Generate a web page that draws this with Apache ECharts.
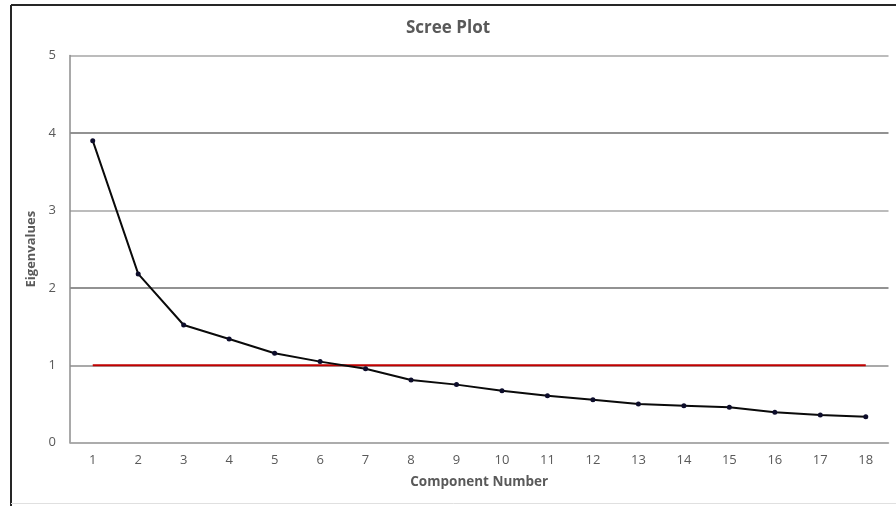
<!DOCTYPE html>
<html>
<head>
<meta charset="utf-8">
<script src="https://cdn.jsdelivr.net/npm/echarts@6/dist/echarts.min.js"></script>
<style>
html,body{margin:0;padding:0;background:#fff;}
#chart{width:896px;height:506px;}
</style>
</head>
<body>
<div id="chart"></div>
<script>
const categories = ['1','2','3','4','5','6','7','8','9','10','11','12','13','14','15','16','17','18'];
const eigenvalues = [3.90, 2.18, 1.52, 1.34, 1.155, 1.047, 0.956, 0.81, 0.75, 0.672, 0.607, 0.556, 0.50, 0.478, 0.457, 0.393, 0.358, 0.336];
const cutoff = [1,1,1,1,1,1,1,1,1,1,1,1,1,1,1,1,1,1];
const yTicks = [0, 1, 2, 3, 4, 5];

const chart = echarts.init(document.getElementById('chart'), null, {renderer: 'canvas'});
const font = '"Open Sans", "Liberation Sans", sans-serif';
chart.setOption({
  backgroundColor: '#fff',
  animation: false,
  title: {
    text: 'Scree Plot',
    left: 'center',
    top: 15,
    textStyle: {fontFamily: font, fontSize: 17, fontWeight: 'bold', color: '#595959'}
  },
  grid: {left: 70, right: 7.5, top: 55.5, bottom: 63.3, containLabel: false},
  xAxis: {
    type: 'category',
    data: categories,
    boundaryGap: true,
    name: 'Component Number',
    nameLocation: 'middle',
    nameGap: 32,
    nameTextStyle: {fontFamily: font, fontSize: 13.5, fontWeight: 'bold', color: '#595959'},
    axisLine: {lineStyle: {color: '#a6a6a6', width: 1.5}},
    axisTick: {show: false},
    axisLabel: {fontFamily: font, fontSize: 13, color: '#595959', margin: 11},
    splitLine: {show: false}
  },
  yAxis: {
    type: 'value',
    min: yTicks[0],
    max: yTicks[yTicks.length - 1],
    interval: 1,
    name: 'Eigenvalues',
    nameLocation: 'middle',
    nameGap: 30,
    nameTextStyle: {fontFamily: font, fontSize: 13, fontWeight: 'bold', color: '#595959'},
    axisLine: {show: true, lineStyle: {color: '#8c8c8c', width: 1.5}},
    axisTick: {show: false},
    axisLabel: {fontFamily: font, fontSize: 13, color: '#595959', margin: 14},
    splitLine: {show: true, lineStyle: {color: ['#a6a6a6', '#8c8c8c', '#6e6e6e', '#a6a6a6', '#6e6e6e', '#a6a6a6'], width: 1.5}}
  },
  graphic: [
    {type: 'line', shape: {x1: 11, y1: 5, x2: 896, y2: 5}, style: {stroke: '#262626', lineWidth: 2}, z: 100},
    {type: 'line', shape: {x1: 11, y1: 5, x2: 11, y2: 506}, style: {stroke: '#262626', lineWidth: 2}, z: 100},
    {type: 'line', shape: {x1: 11, y1: 503.5, x2: 896, y2: 503.5}, style: {stroke: '#e0e0e0', lineWidth: 1}, z: 100}
  ],
  series: [
    {
      name: 'Cutoff',
      type: 'line',
      data: cutoff,
      symbol: 'none',
      lineStyle: {color: '#c00000', width: 1.8},
      z: 2
    },
    {
      name: 'Eigenvalue',
      type: 'line',
      data: eigenvalues,
      symbol: 'circle',
      symbolSize: 5,
      itemStyle: {color: '#0d0d2b'},
      lineStyle: {color: '#0a0a0a', width: 2},
      z: 3
    }
  ]
});
</script>
</body>
</html>
